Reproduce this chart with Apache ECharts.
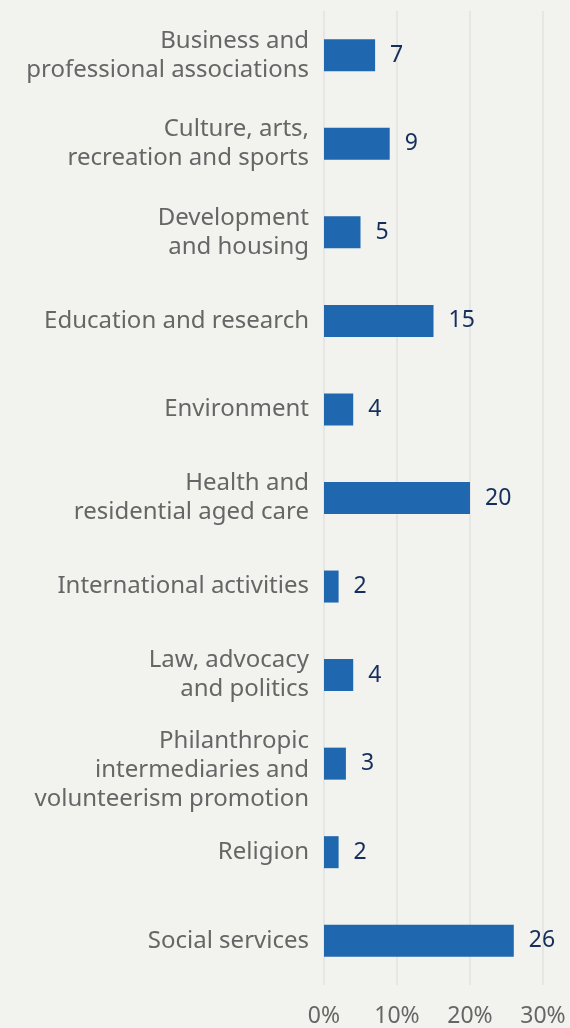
<!DOCTYPE html>
<html>
<head>
<meta charset="utf-8">
<script src="https://cdn.jsdelivr.net/npm/echarts@6/dist/echarts.min.js"></script>
<style>
  html, body { margin: 0; padding: 0; background: #f2f2ee; }
  #chart { width: 570px; height: 1028px; }
</style>
</head>
<body>
<div id="chart"></div>
<script>
// Share of organisations by activity area (%)
const categories = [
  'Business and\nprofessional associations',
  'Culture, arts,\nrecreation and sports',
  'Development\nand housing',
  'Education and research',
  'Environment',
  'Health and\nresidential aged care',
  'International activities',
  'Law, advocacy\nand politics',
  'Philanthropic\nintermediaries and\nvolunteerism promotion',
  'Religion',
  'Social services'
];
const shares = [7, 9, 5, 15, 4, 20, 2, 4, 3, 2, 26];
const xTicks = [0, 10, 20, 30];

const chart = echarts.init(document.getElementById('chart'));
const font = '"Noto Sans", Lato, sans-serif';
const labelGrey = '#666666';

// Long three-line labels are nudged down a little with an empty spacer line.
function categoryLabel(name) {
  const lines = name.split('\n');
  const body = lines.map(l => '{t|' + l + '}').join('\n');
  return lines.length >= 3 ? '{gap|}\n' + body : body;
}

chart.setOption({
  backgroundColor: '#f2f2ee',
  animation: false,
  grid: { left: 324, right: 27, top: 11, bottom: 42 },
  xAxis: {
    type: 'value',
    min: xTicks[0],
    max: xTicks[xTicks.length - 1],
    interval: xTicks[1] - xTicks[0],
    axisLine: { show: false },
    axisTick: { show: false },
    splitLine: { show: true, lineStyle: { color: '#e6e6e2', width: 2 } },
    axisLabel: {
      formatter: v => v + '%',
      color: labelGrey,
      fontFamily: font,
      fontSize: 23,
      margin: 20
    }
  },
  yAxis: {
    type: 'category',
    inverse: true,
    data: categories,
    axisLine: { show: false },
    axisTick: { show: false },
    axisLabel: {
      color: labelGrey,
      fontFamily: font,
      fontSize: 24,
      lineHeight: 29,
      margin: 15,
      align: 'right',
      formatter: categoryLabel,
      rich: {
        t: { color: labelGrey, fontFamily: font, fontSize: 24, lineHeight: 29, align: 'right' },
        gap: { fontSize: 1, lineHeight: 14, align: 'right' }
      }
    }
  },
  series: [{
    type: 'bar',
    data: shares,
    barWidth: 32,
    itemStyle: { color: '#1f67ae' },
    label: {
      show: true,
      position: 'right',
      distance: 15,
      color: '#152f5c',
      fontFamily: font,
      fontSize: 23
    }
  }]
});
</script>
</body>
</html>
